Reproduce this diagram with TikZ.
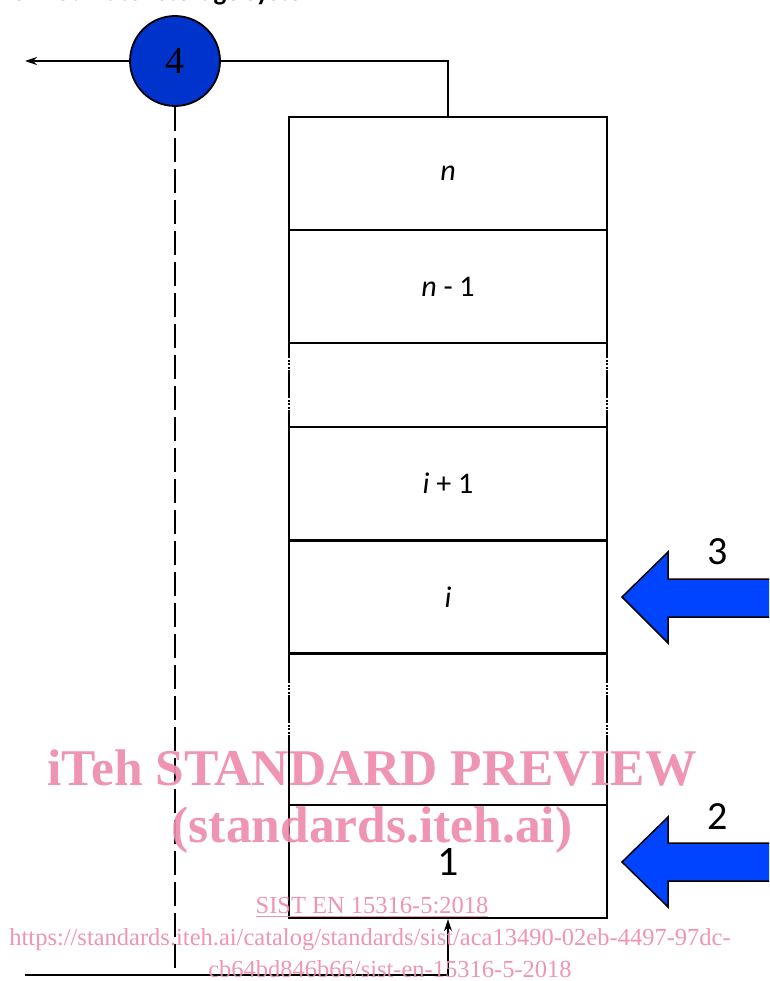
\documentclass[tikz,border=0pt]{standalone}
\usepackage{fontspec}
\usetikzlibrary{arrows.meta}
\newfontfamily\carl{Carlito}
\newfontfamily\tnr{Liberation Serif}
\definecolor{cblue}{RGB}{0,51,204}
\definecolor{ablue}{RGB}{0,68,255}
\definecolor{wpink}{RGB}{238,140,172}
\tikzset{
  cell/.style={draw, line width=2.3pt, minimum width=318pt, minimum height=113pt, inner sep=0pt, font=\fontsize{30}{32}\selectfont\carl},
  conn/.style={line width=1.8pt},
  sideline/.style={line width=2.3pt},
  blockarrow/.style={fill=ablue, draw=black, line width=1.5pt, line join=miter},
  biglabel/.style={font=\fontsize{40}{42}\selectfont\carl, inner sep=0pt},
  wmark/.style={text=wpink, opacity=0.92, inner sep=0pt},
}
\begin{document}
\begin{tikzpicture}[x=1pt,y=-1pt]
\useasboundingbox (0,0) rectangle (769,981);
\clip (0,0) rectangle (769,981);

% clipped caption at the top
\node[anchor=base west, inner sep=0pt, font=\fontsize{27}{29}\selectfont\carl\bfseries] (cap) at (12,1) {of hot water storage system};

% cells
\node[cell] (bn)  at (448,173.5) {\textit{n}};
\node[cell] (bn1) at (448,286.5) {\textit{n} - 1};
\node[cell] (bi1) at (448,483.5) {\textit{i} + 1};
\node[cell] (bi)  at (448,597)   {\textit{i}};
\node[cell, font=\fontsize{42}{44}\selectfont\carl] (b1) at (448,861.5) {1};

% gap sides with broken (dotted) parts
\foreach \x in {289,607}{
  \draw[sideline] (\x,343) -- (\x,358);
  \draw[sideline] (\x,370) -- (\x,398);
  \draw[sideline] (\x,410) -- (\x,427);
  \draw[sideline] (\x,654) -- (\x,683);
  \draw[sideline] (\x,695) -- (\x,723);
  \draw[sideline] (\x,735) -- (\x,805);
  \foreach \y in {360.5,364,367.5,400.5,404,407.5,685.5,689,692.5,725.5,729,732.5}{
    \fill (\x-1.1,\y-1) rectangle (\x+1.1,\y+1);
  }
}

% circle 4
\node[circle, draw, fill=cblue, line width=1.8pt, minimum size=90pt, inner sep=0pt,
      font=\fontsize{38}{38}\selectfont\tnr] (c4) at (175,61) {4};
\coordinate (outL) at (25,61);
\coordinate (inL) at (25,975);
\coordinate (dashend) at (175,975);

\draw[conn, -{Stealth[length=12pt,width=8pt]}] (c4.west) -- (outL);
\draw[conn] (c4.east) -| (bn.north);
\draw[conn, dash pattern=on 24pt off 7pt] (c4.south) -- (dashend);
\draw[conn, -{Stealth[length=12pt,width=8pt]}] (inL) -| (b1.south);

% block arrows
\draw[blockarrow] (785,579) -- (668,579) -- (668,552) -- (622,597) -- (668,643) -- (668,617) -- (785,617) -- cycle;
\draw[blockarrow] (785,843) -- (668,843) -- (668,817) -- (622,862) -- (668,907) -- (668,881) -- (785,881) -- cycle;
\node[biglabel] (l3) at (718,552) {3};
\node[biglabel] (l2) at (718,817) {2};

% watermark
\node[wmark, font=\fontsize{51.5}{53}\selectfont\tnr\bfseries] (w1) at (372,768) {iTeh STANDARD PREVIEW};
\node[wmark, font=\fontsize{51.5}{53}\selectfont\tnr\bfseries] (w2) at (372,830) {(standards.iteh.ai)};
\node[wmark, font=\fontsize{24.5}{26}\selectfont\tnr] (w3) at (372,907) {\underline{SIST EN 15316-5:2018}};
\node[wmark, font=\fontsize{24.5}{26}\selectfont\tnr] (w4) at (370,940) {https://standards.iteh.ai/catalog/standards/sist/aca13490-02eb-4497-97dc-};
\node[wmark, font=\fontsize{24.5}{26}\selectfont\tnr] (w5) at (390,969) {cb64bd846b66/sist-en-15316-5-2018};
\end{tikzpicture}
\end{document}
